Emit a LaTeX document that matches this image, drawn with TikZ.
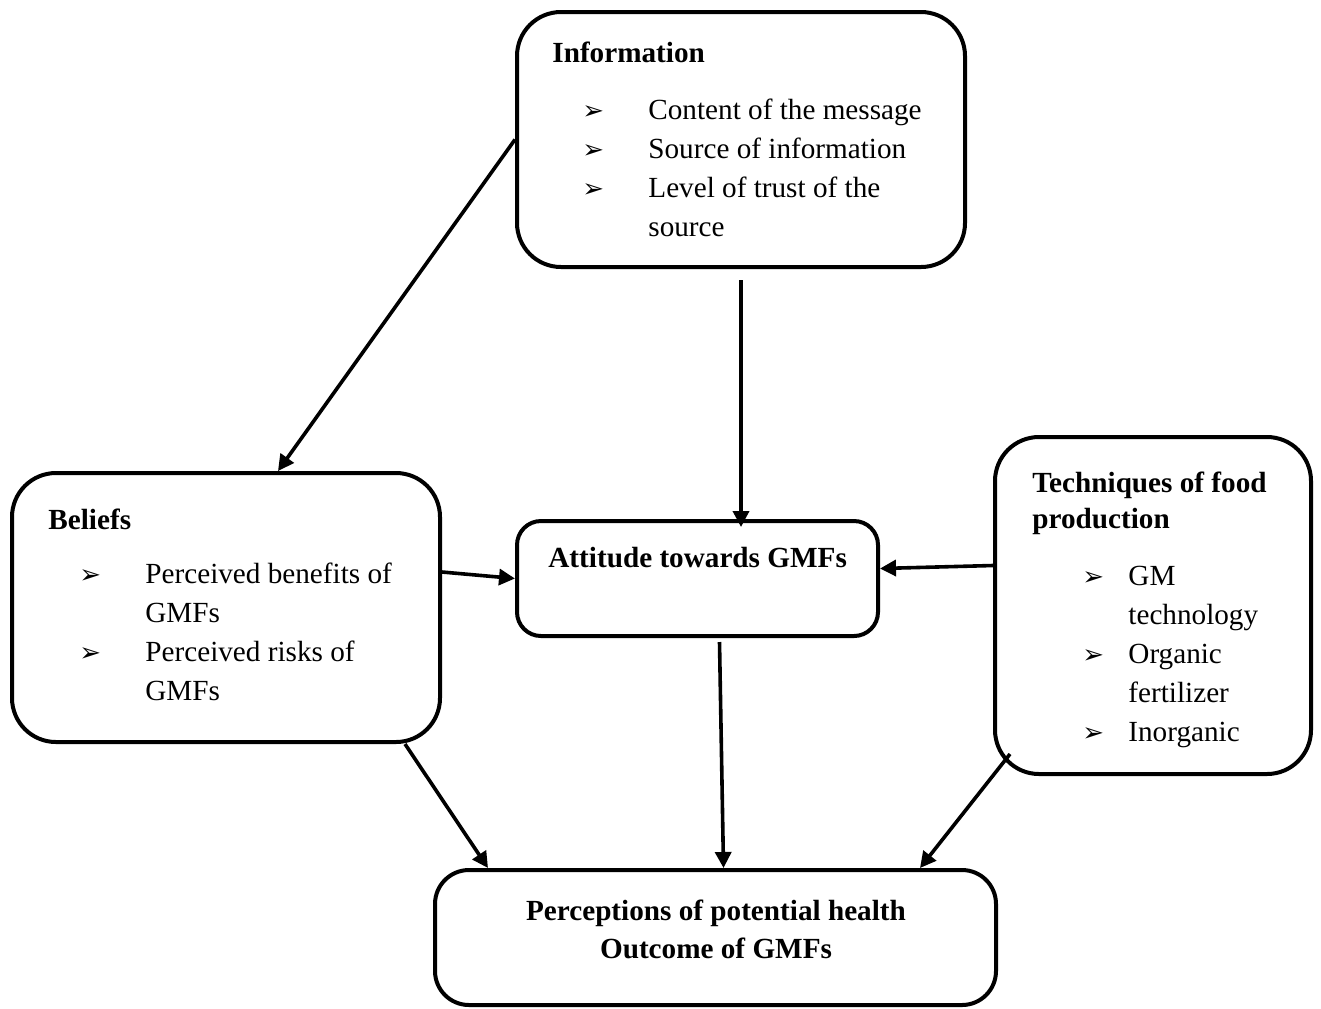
\documentclass[tikz,border=0pt]{standalone}
\usepackage{fontspec}
\setmainfont{Liberation Serif}
\newfontfamily\dejavu{DejaVu Sans}
\usetikzlibrary{arrows.meta}
\tikzset{>={Triangle[width=8pt,length=8pt]}}
\newcommand\bul{{\dejavu\fontsize{13}{13}\selectfont ➢}}

\begin{document}
\begin{tikzpicture}[x=0.5pt,y=-0.5pt,
  box/.style={draw,line width=2pt,rounded corners=22pt,inner sep=0pt},
  link/.style={->,line width=1.8pt},
  txt/.style={anchor=base west,inner sep=0pt,font=\fontsize{14.6}{19.5}\selectfont},
  head/.style={anchor=base west,inner sep=0pt,font=\fontsize{14.6}{18}\selectfont\bfseries}]

  \useasboundingbox (0,0) rectangle (1321,1008);

  %% boxes
  \node[box,minimum width=224pt,minimum height=127.5pt] (info) at (741,139.5) {};
  \node[box,minimum width=214pt,minimum height=134.5pt] (beliefs) at (226,607.5) {};
  \node[box,rounded corners=12pt,minimum width=180.5pt,minimum height=57.5pt] (attitude) at (697.5,578.5) {};
  \node[box,minimum width=158pt,minimum height=168.5pt] (tech) at (1153,605.5) {};
  \node[box,rounded corners=17pt,minimum width=280.5pt,minimum height=67.5pt] (percep) at (715.5,937.5) {};

  %% texts
  \node[head] (infohead) at (552,62) {Information};
  \node[txt] (infolist) at (582,119) {\begin{tabular}[t]{@{}p{33pt}@{}l@{}}
    \bul & Content of the message\\
    \bul & Source of information\\
    \bul & Level of trust of the\\
         & source
  \end{tabular}};

  \node[head] (beliefshead) at (48,529) {Beliefs};
  \node[txt] (beliefslist) at (79,583) {\begin{tabular}[t]{@{}p{33pt}@{}l@{}}
    \bul & Perceived benefits of\\
         & GMFs\\
    \bul & Perceived risks of\\
         & GMFs
  \end{tabular}};

  \node[head] (attitudehead) at (548,567) {Attitude towards GMFs};

  \node[head] (techhead) at (1032,492) {\begin{tabular}[t]{@{}l@{}}
    Techniques of food\\
    production
  \end{tabular}};
  \node[txt] (techlist) at (1082,585) {\begin{tabular}[t]{@{}p{23pt}@{}l@{}}
    \bul & GM\\
         & technology\\
    \bul & Organic\\
         & fertilizer\\
    \bul & Inorganic
  \end{tabular}};

  \node[head,anchor=base,font=\fontsize{14.6}{19}\selectfont\bfseries] (perceptext) at (716,920) {\begin{tabular}[t]{@{}c@{}}
    Perceptions of potential health\\
    Outcome of GMFs
  \end{tabular}};

  %% arrows
  \draw[link] (info.west) -- ([xshift=134pt]beliefs.north west); %% info -> beliefs
  \draw[link] ([yshift=-5.5pt]info.south) -- ([yshift=-4pt]info.south |- attitude.north); %% info -> attitude
  \draw[link] ([yshift=17.75pt]beliefs.east) -- (attitude.west); %% beliefs -> attitude
  \draw[link] ([yshift=20pt]tech.west) -- ([yshift=5pt]attitude.east); %% tech -> attitude
  \draw[link] ([xshift=-18.5pt]beliefs.south east) -- ([xshift=27.5pt]percep.north west); %% beliefs -> percep
  \draw[link] ([xshift=11pt,yshift=-2pt]attitude.south) -- ([xshift=4pt]percep.north); %% attitude -> percep
  \draw[link] ([xshift=8.5pt,yshift=11pt]tech.south west) -- ([xshift=-39pt]percep.north east); %% tech -> percep

\end{tikzpicture}
\end{document}
